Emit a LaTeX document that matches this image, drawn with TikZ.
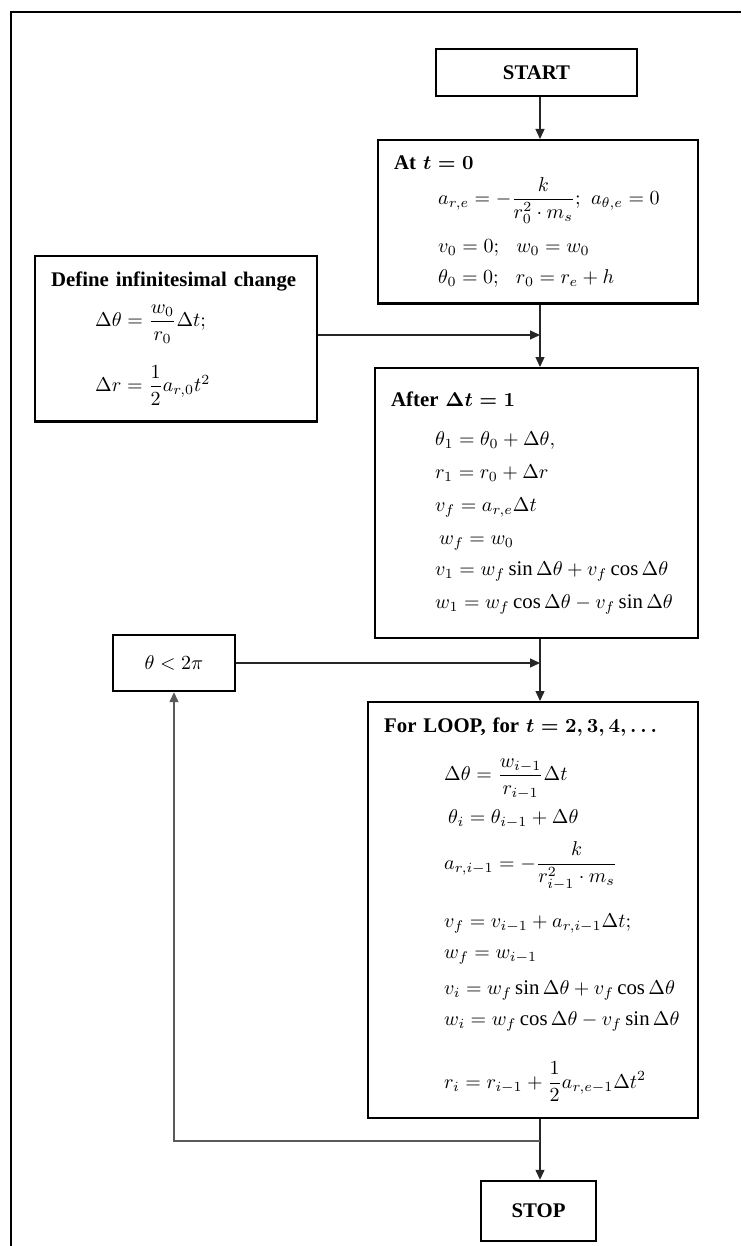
\documentclass[tikz,border=0pt]{standalone}
\usepackage{amsmath}
\usepackage{fontspec}
\setmainfont{Liberation Serif}
\usetikzlibrary{arrows.meta, positioning}

\begin{document}
\begin{tikzpicture}[x=0.5pt, y=-0.5pt,
  every node/.style={font=\fontsize{10.4}{12.5}\selectfont},
  termbox/.style={draw, line width=1.2pt, font=\fontsize{10.4}{12.5}\selectfont\bfseries, inner sep=0pt},
  calcbox/.style={draw, line width=1.2pt, align=left, inner sep=8pt, anchor=north west},
  arrow/.style={-{Triangle[length=5pt, width=4.5pt]}, line width=0.65pt, black!85},
  backline/.style={-{Triangle[length=5pt, width=4.5pt]}, line width=0.65pt, black!65},
]
\useasboundingbox (0,0) rectangle (741,1246);

% Outer frame (cut at right and bottom)
\draw[line width=1pt] (11,1246) -- (11,12) -- (741,12);

% Start / stop
\node[termbox, minimum width=100.5pt, minimum height=23.5pt] (start) at (536.5,72.5) {START};
\node[termbox, minimum width=57.5pt, minimum height=30pt] (stop) at (538.5,1211) {STOP};

% Initial values
\node[calcbox, text width=144pt, minimum height=81.5pt] (init) at (377,139) {%
{\bfseries\boldmath At $t = 0$}\\[2.5pt]
\hspace*{22pt}$a_{r,e} = -\dfrac{k}{r_0^2\cdot m_s};\ a_{\theta,e} = 0$\\[7pt]
\hspace*{22pt}$v_0 = 0;\ \ w_0 = w_0$\\[3pt]
\hspace*{22pt}$\theta_0 = 0;\ \ r_0 = r_e + h$};

% Infinitesimal change
\node[calcbox, text width=125pt, minimum height=82.5pt] (dfn) at (34,255) {%
{\bfseries Define infinitesimal change}\\[5.5pt]
\hspace*{22pt}$\Delta\theta = \dfrac{w_0}{r_0}\Delta t;$\\[10pt]
\hspace*{22pt}$\Delta r = \dfrac{1}{2}a_{r,0}t^2$};

% First step
\node[calcbox, text width=145.5pt, minimum height=135pt] (step1) at (374,367) {%
{\bfseries\boldmath After $\Delta t = 1$}\\[7pt]
\hspace*{22pt}$\theta_1 = \theta_0 + \Delta\theta,$\\[4pt]
\hspace*{22pt}$r_1 = r_0 + \Delta r$\\[4pt]
\hspace*{22pt}$v_f = a_{r,e}\Delta t$\\[4pt]
\hspace*{24pt}$w_f = w_0$\\[3pt]
\hspace*{22pt}$v_1 = w_f\sin\Delta\theta + v_f\cos\Delta\theta$\\[4pt]
\hspace*{22pt}$w_1 = w_f\cos\Delta\theta - v_f\sin\Delta\theta$};

% Condition
\node[draw, line width=1.2pt, minimum width=61pt, minimum height=28pt] (cond) at (174,663) {$\theta < 2\pi$};

% Loop body
\node[calcbox, text width=149pt, minimum height=207.5pt] (loop) at (367,701) {%
{\bfseries\boldmath For LOOP, for $t = 2, 3, 4, \ldots$}\\[10pt]
\hspace*{30pt}$\Delta\theta = \dfrac{w_{i-1}}{r_{i-1}}\Delta t$\\[4pt]
\hspace*{32pt}$\theta_i = \theta_{i-1} + \Delta\theta$\\[6pt]
\hspace*{30pt}$a_{r,i-1} = -\dfrac{k}{r_{i-1}^2\cdot m_s}$\\[11pt]
\hspace*{30pt}$v_f = v_{i-1} + a_{r,i-1}\Delta t;$\\[3pt]
\hspace*{30pt}$w_f = w_{i-1}$\\[5.5pt]
\hspace*{30pt}$v_i = w_f\sin\Delta\theta + v_f\cos\Delta\theta$\\[3pt]
\hspace*{30pt}$w_i = w_f\cos\Delta\theta - v_f\sin\Delta\theta$\\[14pt]
\hspace*{30pt}$r_i = r_{i-1} + \dfrac{1}{2}a_{r,e-1}\Delta t^2$};

% Junctions on the main line
\coordinate (j1) at (540,335);
\coordinate (j2) at (540,663);
\coordinate (j3) at (540,1141);

% Connectors
\draw[arrow] (start.south -| j1) -- (init.north -| j1);
\draw[arrow] (init.south -| j1) -- (step1.north -| j1);
\draw[arrow] (dfn.east |- j1) -- (j1);
\draw[arrow] (step1.south -| j1) -- (loop.north -| j1);
\draw[arrow] (cond.east) -- (j2);
\draw[arrow] (loop.south -| j1) -- (stop.north -| j1);
\draw[backline] (j3) -| (cond.south);
\end{tikzpicture}
\end{document}
